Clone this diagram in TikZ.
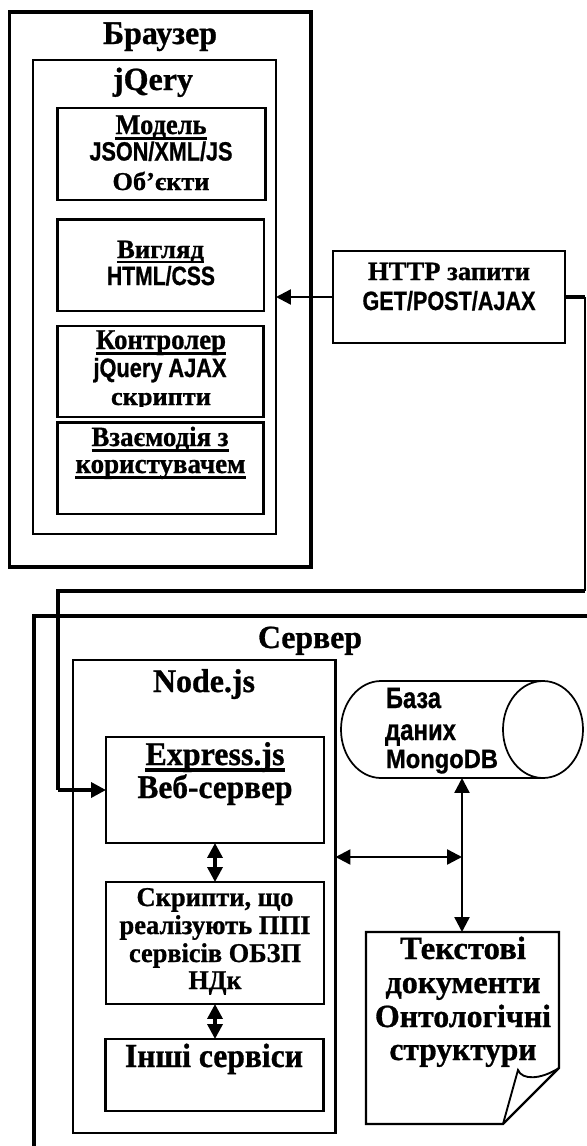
\documentclass[tikz,border=0pt]{standalone}
\usepackage{fontspec}
\usepackage{graphicx}
\setmainfont{Liberation Serif}[Scale=1.1,BoldFeatures={FakeBold=0.9}]
\setsansfont{Liberation Sans}[Scale=1.1,BoldFeatures={FakeBold=0.9}]
\usetikzlibrary{arrows.meta,fit}
\newdimen\px \px=0.75pt
\newcommand\ulx[2][0.1]{\leavevmode\setbox0\hbox{#2}\rlap{\rule[-0.2em]{\wd0}{#1em}}\box0}
% \lab{name}{x}{y}{style}{width in px}{text}
\newcommand\lab[6]{\node[#4] (#1) at (#2,#3) {\resizebox{#5\px}{\height}{#6}};}
\tikzset{
  x=0.75pt,y=-0.75pt,
  lb/.style={anchor=base,inner sep=0pt,outer sep=0pt},
  rs/.style={lb,font=\fontsize{#1}{#1}\selectfont\bfseries},
  ss/.style={lb,font=\fontsize{#1}{#1}\selectfont\sffamily\bfseries},
  heavy/.style={draw,line width=2.6pt,inner sep=0pt,outer sep=0pt},
  thinb/.style={draw,line width=1.6pt,inner sep=0pt,outer sep=0pt},
  wire/.style={line width=#1,line join=miter},
  arrowtips/.style={>={Triangle[length=11.2pt,width=11.2pt]}}
}
\begin{document}
\begin{tikzpicture}
\useasboundingbox (0,0) rectangle (586,1146);
% boxes
\node[heavy,fit={(9.5,12) (311,567)}] (browser) {};
\node[thinb,fit={(33,60) (276,534)}] (jq) {};
\node[thinb,fit={(57.5,108) (265.5,200)}] (model) {};
\node[thinb,fit={(57.5,219.5) (264,311)}] (view) {};
\node[thinb,fit={(57.5,326) (263.5,417)}] (ctrl) {};
\node[thinb,fit={(57.5,422.5) (263.5,514)}] (inter) {};
\node[thinb,fit={(333,251) (565,343)}] (http) {};
\node[thinb,fit={(73,660) (335.5,1133)}] (nodejs) {};
\node[thinb,fit={(106,737) (324,843)}] (express) {};
\node[thinb,fit={(106,882) (324,1004)}] (scripts) {};
\node[thinb,fit={(105.5,1039) (323.5,1111)}] (other) {};
% server: open frame running off the page
\coordinate (srvA) at (34,1150);
\coordinate (srvB) at (34,616);
\coordinate (srvC) at (590,616);
\draw[wire=2.6pt] (srvA) -- (srvB) -- (srvC);
% database cylinder
\draw[line width=1.3pt] (381,778) arc[start angle=90,end angle=270,x radius=40,y radius=48.5] -- (543,681);
\draw[line width=1.3pt] (381,778) -- (543,778);
\draw[line width=1.3pt] (543,729.5) ellipse[x radius=40,y radius=48.5];
\coordinate (dbb) at (462,778);
% document
\draw[line width=1.8pt,line join=miter] (366,932) -- (559,932) -- (559,1068) -- (503,1124) -- (366,1124) -- cycle;
\draw[line width=1.4pt] (503,1124) -- (518,1070) .. controls (522,1080) and (540,1080) .. (559,1068);
\coordinate (doct) at (462,932);
\coordinate (junc) at (462,857);
% connectors
\coordinate (c1) at (585,297);
\coordinate (c2) at (585,591);
\coordinate (c3) at (58,591);
\coordinate (c4) at (58,790);
\draw[wire=1.8pt,arrowtips,->] (http.west) -- (http.west -| jq.east);
\draw[wire=2.6pt] (http.east) -- (c1);
\draw[wire=1.4pt] (c1) -- (c2);
\draw[wire=2.6pt] (c2) -- (c3) -- (c4);
\draw[wire=2.6pt,arrowtips,->] (c4) -- (express.west);
\draw[wire=2.6pt,arrowtips,<->] (express.south) -- (scripts.north);
\draw[wire=2.6pt,arrowtips,<->] (scripts.south) -- (scripts.south |- other.north);
\draw[wire=1.8pt,arrowtips,<->] (dbb) -- (doct);
\draw[wire=1.8pt,arrowtips,<->] (nodejs.east |- junc) -- (junc);
% labels
\lab{tBrowser}{160}{44}{rs=22.5}{114}{Браузер}
\lab{tJq}{153}{90}{rs=22}{80}{jQery}
\lab{tModel}{161}{134}{rs=19.5}{91}{\ulx{Модель}}
\lab{tJson}{161}{160.5}{ss=18}{143}{JSON/XML/JS}
\lab{tObj}{161}{190}{rs=17.5}{97}{Об’єкти}
\lab{tView}{160.5}{258}{rs=18}{87}{\ulx{Вигляд}}
\lab{tHtml}{161}{285}{ss=18}{108}{HTML/CSS}
\lab{tCtrl}{161}{349}{rs=19.5}{130}{\ulx{Контролер}}
\lab{tAjax}{160}{377}{ss=18}{133}{jQuery AJAX}
\begin{scope}
\clip (58,380) rectangle (263,406.7);
\lab{tScr}{161}{405}{rs=17.5}{100}{скрипти}
\end{scope}
\lab{tInter}{160}{446}{rs=19}{137}{\ulx{Взаємодія з}}
\lab{tUser}{160.5}{473}{rs=19}{170}{\ulx{користувачем}}
\lab{tHttpA}{449}{280}{rs=18}{162}{HTTP запити}
\lab{tHttpB}{449}{310}{ss=18}{173}{GET/POST/AJAX}
\lab{tServer}{310}{648}{rs=22}{104}{Сервер}
\lab{tNode}{204}{692}{rs=22.5}{102}{Node.js}
\lab{tExpress}{215}{765}{rs=22.5}{139}{\ulx{Express.js}}
\lab{tWeb}{215}{798}{rs=22.5}{155}{Веб-сервер}
\lab{tS1}{215}{906}{rs=18.5}{157}{Скрипти, що}
\lab{tS2}{215}{934}{rs=18.5}{191}{реалізують ППІ}
\lab{tS3}{215}{962}{rs=18.5}{172}{сервісів ОБЗП}
\lab{tS4}{215}{989}{rs=18.5}{53}{НДк}
\lab{tOther}{214}{1067}{rs=23}{178}{Інші сервіси}
\lab{tDb1}{386}{708}{ss=20,anchor=base west}{55}{База}
\lab{tDb2}{385}{740}{ss=20,anchor=base west}{71}{даних}
\lab{tDb3}{386}{768}{ss=18,anchor=base west}{112}{MongoDB}
\lab{tD1}{463}{959}{rs=22}{126}{Текстові}
\lab{tD2}{463}{993}{rs=22}{155}{документи}
\lab{tD3}{463}{1027}{rs=22}{176}{Онтологічні}
\lab{tD4}{463}{1060}{rs=22}{147}{структури}
\end{tikzpicture}
\end{document}
